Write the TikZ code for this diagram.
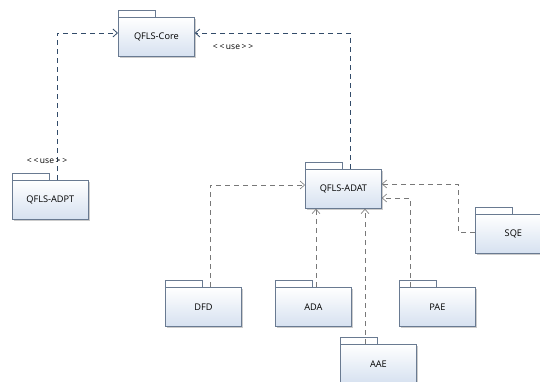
\documentclass[tikz,border=0pt]{standalone}
\usepackage{fontspec}
\setmainfont{Open Sans}
\usetikzlibrary{arrows.meta}
\definecolor{pkgborder}{RGB}{105,122,145}
\definecolor{pkgfill}{RGB}{214,225,240}
\definecolor{usecol}{RGB}{50,75,105}
\definecolor{depcol}{RGB}{120,120,120}
\tikzset{
  pkg/.style={draw=pkgborder, line width=0.8pt, top color=white, bottom color=pkgfill,
    minimum width=76pt, minimum height=39pt, inner sep=0pt, font=\fontsize{9.2}{11}\selectfont},
  usedep/.style={draw=usecol, dashed, dash pattern=on 5pt off 4pt, line width=0.8pt,
    -{Straight Barb[length=4.5pt,width=8pt]}},
  dep/.style={draw=depcol, dash pattern=on 5pt off 4pt, line width=0.6pt,
    -{Straight Barb[length=4.5pt,width=8pt]}},
  lbl/.style={font=\fontsize{8.5}{10}\selectfont, inner sep=0pt}
}
\newcommand{\pkgbox}[4]{% name, x, y (top-left of body), text
  \fill[gray!40] (#2+2,#3+2) rectangle (#2+78,#3+41);
  \draw[pkgborder, line width=0.8pt, fill=white] (#2,#3) rectangle (#2+37,#3-7);
  \node[pkg, anchor=north west] (#1) at (#2,#3) {#4};
}
\newcommand{\usetxt}{{<}\kern2pt{<}\kern1.5pt use\kern1.5pt{>}\kern2pt{>}}
\begin{document}
\begin{tikzpicture}[x=1pt,y=-1pt]
\useasboundingbox (0,0) rectangle (540,382);
\pkgbox{core}{118}{17}{QFLS-Core}
\pkgbox{adpt}{12}{180}{QFLS-ADPT}
\pkgbox{adat}{305}{169}{QFLS-ADAT}
\pkgbox{dfd}{165}{287}{DFD}
\pkgbox{ada}{275}{287}{ADA}
\pkgbox{pae}{399}{287}{PAE}
\pkgbox{aae}{340}{344}{AAE}
\pkgbox{sqe}{475}{214}{SQE}
% use dependencies
\coordinate (c1) at (57,33);
\coordinate (c2) at (350,33);
\draw[usedep] (adpt.north -| c1) -- (c1) -- (core.west |- c1);
\draw[usedep] (adat.north -| c2) -- (c2) -- (core.east |- c2);
\node[lbl] (u1) at (47,161) {\usetxt};
\node[lbl] (u2) at (233,47) {\usetxt};
% dependencies to ADAT
\coordinate (d1) at (210,185);
\draw[dep] (dfd.north -| d1) -- (d1) -- (adat.west |- d1);
\coordinate (d2) at (316,250);
\draw[dep] (ada.north -| d2) -- (adat.south -| d2);
\coordinate (d3) at (365,250);
\draw[dep] (aae.north -| d3) -- (adat.south -| d3);
\coordinate (d4) at (410,198);
\draw[dep] (pae.north -| d4) -- (d4) -- (adat.east |- d4);
\coordinate (d5) at (458,232);
\coordinate (d6) at (458,184);
\draw[dep] (sqe.west |- d5) -- (d5) -- (d6) -- (adat.east |- d6);
\end{tikzpicture}
\end{document}
